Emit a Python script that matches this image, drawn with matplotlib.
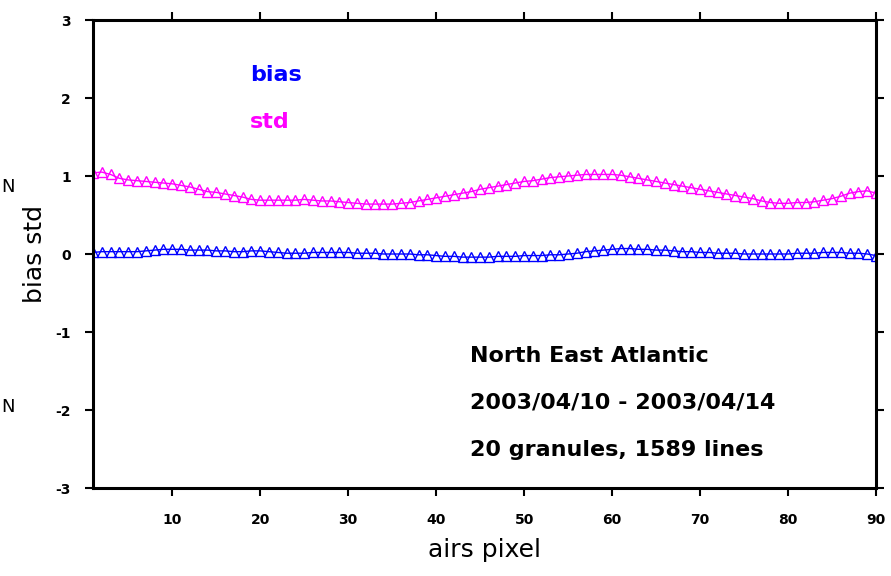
import matplotlib
matplotlib.use("Agg")
import matplotlib.pyplot as plt

pixels = list(range(1, 91))

bias = [0.02, 0.03, 0.03, 0.03, 0.03, 0.03, 0.04, 0.05, 0.06, 0.06,
        0.06, 0.05, 0.05, 0.05, 0.04, 0.04, 0.03, 0.03, 0.04, 0.04,
        0.03, 0.02, 0.01, 0.01, 0.01, 0.02, 0.02, 0.02, 0.02, 0.02,
        0.01, 0.01, 0.01, 0.00, 0.00, 0.00, 0.00, -0.01, -0.01, -0.02,
        -0.03, -0.03, -0.04, -0.04, -0.04, -0.04, -0.03, -0.03, -0.03, -0.02,
        -0.02, -0.02, -0.01, -0.01, 0.00, 0.01, 0.03, 0.04, 0.05, 0.06,
        0.07, 0.07, 0.06, 0.06, 0.05, 0.05, 0.04, 0.03, 0.03, 0.02,
        0.02, 0.01, 0.01, 0.01, 0.00, 0.00, 0.00, 0.00, 0.00, 0.00,
        0.01, 0.01, 0.01, 0.02, 0.02, 0.02, 0.01, 0.01, 0.00, -0.02]

std = [1.04, 1.05, 1.02, 0.97, 0.95, 0.94, 0.93, 0.92, 0.91, 0.90,
       0.88, 0.86, 0.83, 0.80, 0.79, 0.77, 0.75, 0.73, 0.70, 0.69,
       0.69, 0.69, 0.69, 0.69, 0.70, 0.69, 0.68, 0.68, 0.67, 0.66,
       0.65, 0.64, 0.64, 0.64, 0.64, 0.65, 0.66, 0.68, 0.70, 0.72,
       0.74, 0.76, 0.78, 0.80, 0.83, 0.85, 0.87, 0.89, 0.91, 0.93,
       0.94, 0.96, 0.98, 0.99, 1.00, 1.01, 1.02, 1.02, 1.02, 1.02,
       1.01, 0.99, 0.97, 0.95, 0.93, 0.91, 0.89, 0.87, 0.85, 0.83,
       0.81, 0.79, 0.77, 0.75, 0.73, 0.71, 0.68, 0.66, 0.65, 0.65,
       0.66, 0.66, 0.67, 0.69, 0.71, 0.74, 0.78, 0.80, 0.81, 0.78]

xticks = [10, 20, 30, 40, 50, 60, 70, 80, 90]
yticks = [-3, -2, -1, 0, 1, 2, 3]
info_lines = ["North East Atlantic", "2003/04/10 - 2003/04/14", "20 granules, 1589 lines"]

fig = plt.figure(figsize=(8.91, 5.76), dpi=100)
ax = fig.add_axes([93/891, 1-488/576, (876-93)/891, (488-20)/576])

ax.plot(pixels, bias, color="#0000ff", marker="^", mfc="none", mec="#0000ff",
        markersize=7, mew=1.0, lw=1.0)
ax.plot(pixels, std, color="#ff00ff", marker="^", mfc="none", mec="#ff00ff",
        markersize=7, mew=1.0, lw=1.0)

ax.set_xlim(1, 90)
ax.set_ylim(-3, 3)
ax.set_xticks(xticks)
ax.set_yticks(yticks)
ax.set_xticklabels([str(t) for t in xticks], fontsize=10, fontweight="bold")
ax.set_yticklabels([str(t) for t in yticks], fontsize=10, fontweight="bold")
ax.tick_params(axis="both", direction="out", length=6, width=1.5,
               top=True, right=True)
ax.tick_params(axis="x", pad=12)
ax.tick_params(axis="y", pad=10)
for s in ax.spines.values():
    s.set_linewidth(2.2)

ax.set_xlabel("airs pixel", fontsize=18, labelpad=8)
ax.set_ylabel("bias std", fontsize=18, labelpad=6)

fig.text(250/891, 1-75/576, "bias", color="#0000ff", fontsize=16,
         fontweight="bold", va="center", ha="left")
fig.text(250/891, 1-122/576, "std", color="#ff00ff", fontsize=16,
         fontweight="bold", va="center", ha="left")

for i, line in enumerate(info_lines):
    fig.text(470/891, 1-(356+47*i)/576, line, color="black", fontsize=16,
             fontweight="bold", va="center", ha="left")

fig.text(8/891, 1-187/576, "N", fontsize=13, va="center", ha="center")
fig.text(8/891, 1-407/576, "N", fontsize=13, va="center", ha="center")

fig.savefig("out.png", dpi=100)
